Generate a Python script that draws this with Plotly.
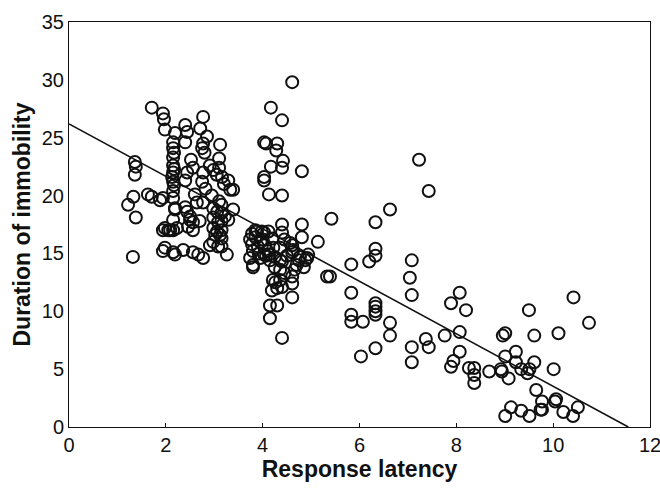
import plotly.graph_objects as go

# Response latency (x) and duration of immobility (y)
latency = [
    1.22, 1.32, 1.36, 1.38, 1.36, 1.33, 1.38, 1.71, 1.71, 1.63,
    1.94, 1.96, 1.98, 1.94, 1.88, 1.94, 1.98, 1.98, 1.94,
    2.19, 2.15, 2.15, 2.15, 2.15, 2.15, 2.15, 2.15, 2.15, 2.19, 2.19, 2.15, 2.05, 2.15, 2.23, 2.09, 2.15, 2.19,
    2.17, 2.17, 2.13, 2.17,
    2.40, 2.44, 2.40, 2.44, 2.40, 2.56, 2.52, 2.60, 2.64, 2.44, 2.50, 2.56, 2.50, 2.56, 2.36, 2.56, 2.67, 2.77,
    2.40, 2.46,
    2.77, 2.71, 2.85, 2.77, 2.75, 2.77, 2.75, 2.77, 2.80, 2.82, 2.70,
    3.12, 3.10, 2.91, 2.98, 3.10, 3.16, 3.29, 3.33, 2.98, 3.06, 2.98, 3.08, 3.39, 3.29, 2.98, 3.02, 3.06, 3.12,
    2.91, 2.98, 3.08, 3.26, 3.15, 3.15, 3.15, 3.15, 3.15, 3.15, 3.39, 3.20, 3.05, 2.95, 3.10, 3.22,
    3.74, 3.78, 3.80, 3.74, 3.80, 3.80, 3.95, 3.78, 3.85, 3.85, 3.90, 3.92, 3.88, 3.98, 4.03, 4.00, 4.05, 4.10,
    4.03, 4.13, 4.15, 4.07, 3.96, 4.20, 4.22, 4.25, 4.12, 4.25, 4.21, 4.19, 4.15, 4.30, 4.15, 4.40, 4.26, 4.30,
    4.03, 4.07, 4.30, 4.28, 4.42, 4.40, 4.17, 4.03, 4.03, 4.13, 4.40, 4.17, 4.40, 4.61, 4.81,
    4.40, 4.40, 4.81, 4.81, 5.14, 5.42, 4.57, 4.63, 4.77, 4.88, 4.94, 4.36, 4.36, 4.36, 4.36, 4.40, 4.61, 4.61,
    4.61, 5.33, 5.39, 4.61, 4.61, 4.40, 4.45, 4.50, 4.70, 4.85, 4.92, 4.45, 4.75, 4.66,
    7.23, 7.43, 6.63, 6.33, 6.33, 6.33, 6.20, 5.83, 7.08, 7.04, 7.08, 5.83, 6.33, 6.33, 6.33, 6.33, 5.83, 5.83,
    6.07, 6.63, 6.63, 6.33, 6.03, 7.08, 7.08, 7.37, 7.43, 7.76, 8.07, 7.89, 8.20, 8.07, 8.07, 7.94, 7.89, 8.26,
    8.37, 8.37, 8.37, 8.68, 8.92, 8.94, 9.08, 9.01, 8.96, 9.01, 9.23, 9.23, 9.34, 9.47, 9.51, 9.61, 9.50, 9.61,
    10.11, 10.42, 10.74, 10.01, 9.65, 9.77, 10.04, 10.06, 9.74, 9.77, 10.21, 10.51, 10.41, 9.13, 9.01, 9.34, 9.51,
]
immobility = [
    19.2, 14.7, 22.9, 22.5, 21.8, 19.9, 18.1, 27.6, 19.9, 20.1,
    27.1, 26.6, 25.7, 19.8, 19.6, 17.0, 17.2, 15.5, 15.2,
    25.4, 24.6, 24.1, 23.3, 22.6, 22.0, 21.2, 20.4, 19.8, 18.9, 18.8, 17.9, 17.0, 17.0, 17.2, 17.0, 15.1, 14.9,
    23.7, 22.3, 21.6, 20.9,
    26.1, 25.5, 24.6, 22.0, 21.3, 22.4, 23.1, 20.1, 19.4, 18.6, 18.2, 17.7, 17.9, 17.0, 15.3, 15.1, 14.9, 14.6,
    19.0, 17.3,
    26.8, 25.8, 25.1, 24.5, 24.1, 22.0, 21.2, 19.4, 23.7, 20.6, 17.8,
    24.4, 23.2, 22.6, 22.2, 22.4, 21.6, 21.3, 20.5, 18.9, 18.6, 18.1, 17.7, 18.8, 17.9, 17.2, 16.6, 16.9, 16.6,
    15.7, 16.0, 15.6, 14.9, 19.2, 18.5, 17.8, 17.0, 16.3, 15.6, 20.5, 21.0, 21.8, 20.0, 19.5, 18.2,
    16.2, 15.8, 15.2, 14.6, 14.0, 13.8, 14.6, 16.7, 17.0, 16.4, 15.6, 15.0, 16.9, 16.9, 16.8, 16.2, 15.7, 15.2,
    14.9, 14.9, 14.4, 14.8, 16.0, 16.3, 15.5, 14.7, 16.9, 13.8, 12.7, 11.8, 10.5, 10.5, 9.4, 7.7, 12.5, 12.0,
    24.6, 24.5, 24.5, 23.9, 23.0, 22.4, 22.5, 21.6, 21.3, 20.1, 20.0, 27.6, 26.5, 29.8, 22.1,
    17.5, 16.8, 17.5, 16.4, 16.0, 18.0, 15.9, 15.3, 14.7, 14.4, 14.9, 15.5, 14.4, 13.6, 12.7, 12.1, 13.0, 12.4,
    11.2, 13.0, 13.0, 15.7, 15.1, 14.3, 13.3, 14.8, 14.0, 13.8, 14.6, 16.2, 14.4, 13.6,
    23.1, 20.4, 18.8, 17.7, 15.4, 14.8, 14.3, 14.05, 14.4, 12.9, 11.4, 11.6, 10.7, 10.4, 10.0, 9.7, 9.7, 9.1,
    9.1, 9.0, 7.9, 6.8, 6.1, 6.9, 5.6, 7.6, 6.9, 7.9, 11.6, 10.7, 10.1, 8.2, 6.5, 5.7, 5.2, 5.1,
    5.1, 4.5, 3.8, 4.8, 5.0, 4.8, 4.2, 8.1, 7.9, 6.1, 6.5, 5.6, 5.0, 4.65, 5.0, 5.6, 10.1, 7.9,
    8.1, 11.2, 9.0, 5.0, 3.2, 2.2, 2.2, 2.4, 1.5, 1.5, 1.3, 1.7, 0.95, 1.7, 0.95, 1.4, 0.95,
]

# Regression line parameters
reg_intercept = 26.2
reg_slope = -2.268

x_ticks = [0, 2, 4, 6, 8, 10, 12]
y_ticks = [0, 5, 10, 15, 20, 25, 30, 35]

x_end = -reg_intercept / reg_slope
line_x = [0, x_end]
line_y = [reg_intercept + reg_slope * v for v in line_x]

fig = go.Figure()
fig.add_trace(go.Scatter(
    x=line_x, y=line_y, mode="lines",
    line=dict(color="#111111", width=1.6),
    hoverinfo="skip", showlegend=False,
))
fig.add_trace(go.Scatter(
    x=latency, y=immobility, mode="markers",
    marker=dict(symbol="circle-open", size=12, color="#111111",
                line=dict(width=2, color="#111111")),
    showlegend=False,
))

font_family = "Liberation Sans, Arial, sans-serif"
fig.update_layout(
    width=660, height=488,
    margin=dict(l=69, r=10, t=22, b=61, autoexpand=False),
    paper_bgcolor="white", plot_bgcolor="white",
    font=dict(family=font_family, color="#111111", size=20),
    xaxis=dict(
        range=[0, 12], tickvals=x_ticks, showgrid=False, zeroline=False,
        showline=True, linecolor="#111111", linewidth=1, mirror=True,
        ticks="inside", ticklen=4, tickcolor="#111111",
        tickfont=dict(size=20), automargin=False, ticklabeloverflow="allow",
        title=dict(text="Response latency", standoff=0,
                   font=dict(size=23, weight="bold")),
    ),
    yaxis=dict(
        range=[0, 35], tickvals=y_ticks, showgrid=False, zeroline=False,
        showline=True, linecolor="#111111", linewidth=1, mirror=True,
        ticks="", tickfont=dict(size=20), automargin=False,
        ticklabeloverflow="allow",
        title=dict(text="Duration of immobility", standoff=4,
                   font=dict(size=23, weight="bold")),
    ),
)

# remove the default page margin so the 660x488 figure fills the window
fig.write_html(
    "out.html",
    config={"displayModeBar": False},
    post_script="document.body.style.margin='0';document.body.style.overflow='hidden';",
)
